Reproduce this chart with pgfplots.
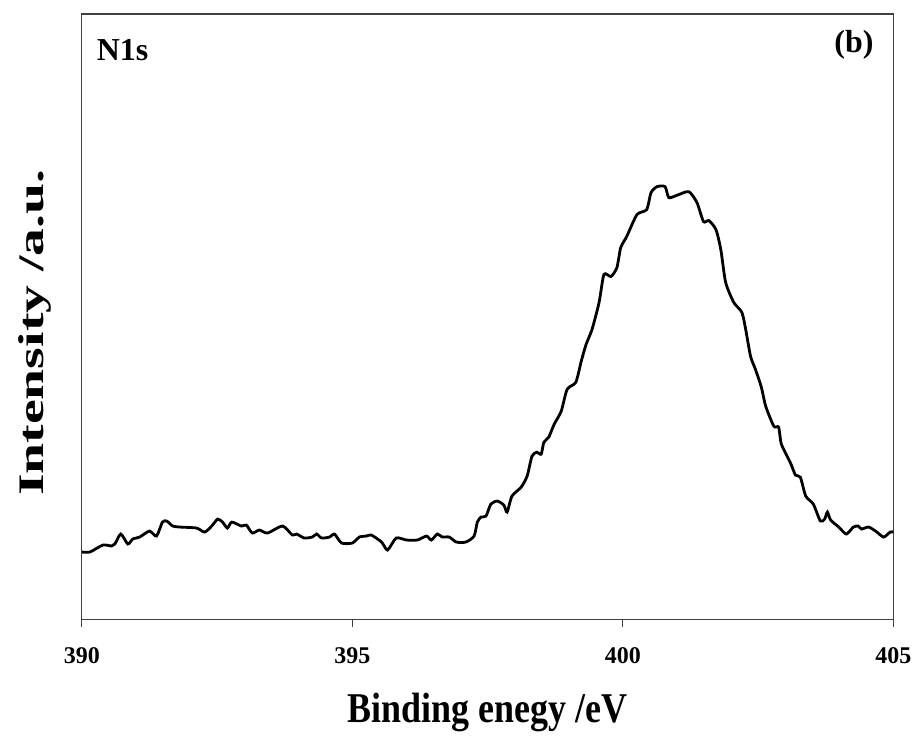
\documentclass[border=0pt]{standalone}
\usepackage{pgfplots}
\pgfplotsset{compat=1.18}
\usepackage{fontspec}
\usepackage{graphicx}
\setmainfont{Liberation Serif}
\begin{document}
\begin{tikzpicture}
\begin{axis}[
  name=ax,
  width=406.5pt, height=303.5pt,
  scale only axis,
  xmin=390, xmax=405, ymin=0, ymax=607,
  xtick={390,395,400,405},
  ytick=\empty,
  xtick pos=bottom,
  tick align=outside,
  major tick length=3.5pt,
  axis line style={black!75, line width=0.6pt},
  every tick/.style={black!75, line width=0.6pt},
  /pgf/number format/assume math mode=true,
  xticklabel style={font=\fontsize{12}{14}\selectfont\bfseries, yshift=-7pt},
  xlabel={\scalebox{1}[1.18]{Binding enegy /eV}},
  xlabel style={font=\fontsize{18}{22}\selectfont\bfseries, at={(axis description cs:0.5,0)}, anchor=north, yshift=-33pt},
  ylabel={\scalebox{1.55}[1]{Intensity /a.u.}},
  ylabel style={font=\fontsize{18}{22}\selectfont\bfseries, at={(axis description cs:-0.058,0.474)}, anchor=center},
  clip=true,
]
\addplot[black, line width=1.4pt, smooth, tension=0.4] coordinates {
(390.00,68) (390.15,68) (390.39,75) (390.55,74) (390.61,76) (390.72,86) (390.85,76)
(390.94,81) (391.07,83) (391.25,89) (391.38,84) (391.49,98) (391.57,99) (391.68,94)
(391.81,93) (392.12,92) (392.27,88) (392.40,94) (392.51,101) (392.60,98) (392.69,92)
(392.77,98) (392.95,94) (393.04,95) (393.15,87) (393.28,90) (393.43,87) (393.71,94)
(393.89,85) (393.97,86) (394.11,82) (394.26,83) (394.34,86) (394.43,82) (394.58,83)
(394.67,86) (394.80,77) (395.00,77) (395.13,83) (395.26,84) (395.35,85) (395.54,78)
(395.65,70) (395.81,82) (396.00,80) (396.20,80) (396.37,84) (396.46,80) (396.57,86)
(396.66,83) (396.79,83) (396.92,78) (397.10,78) (397.25,84) (397.31,98) (397.38,103)
(397.47,104) (397.56,116) (397.68,119) (397.80,115) (397.86,108) (397.95,124) (398.12,133)
(398.23,144) (398.32,164) (398.41,168) (398.49,166) (398.54,178) (398.63,183) (398.73,196)
(398.86,209) (398.97,231) (399.13,238) (399.23,259) (399.32,276) (399.43,291) (399.56,318)
(399.65,346) (399.78,344) (399.89,353) (399.96,373) (400.07,384) (400.26,406) (400.44,411)
(400.52,428) (400.63,434) (400.78,434) (400.85,423) (401.03,426) (401.22,429) (401.37,418)
(401.49,399) (401.59,400) (401.72,391) (401.81,371) (401.90,338) (402.05,318) (402.20,308)
(402.27,291) (402.36,264) (402.45,251) (402.56,233) (402.64,214) (402.79,194) (402.88,193)
(402.93,176) (403.10,157) (403.19,145) (403.28,143) (403.38,124) (403.52,116) (403.65,99)
(403.73,101) (403.78,108) (403.84,100) (403.99,93) (404.13,86) (404.26,93) (404.35,94)
(404.41,91) (404.54,93) (404.67,89) (404.82,83) (404.94,88) (405.00,88)
};
\node[anchor=base west, inner sep=0pt, font=\fontsize{16}{19}\selectfont\bfseries] at (axis description cs:0.018,0.924) {N1s};
\node[anchor=base east, inner sep=0pt, font=\fontsize{16}{19}\selectfont\bfseries] at (axis description cs:0.976,0.936) {(b)};
\end{axis}
\path ([xshift=-41pt,yshift=-58pt]ax.south west) rectangle ([xshift=11.5pt,yshift=7pt]ax.north east);
\end{tikzpicture}
\end{document}
